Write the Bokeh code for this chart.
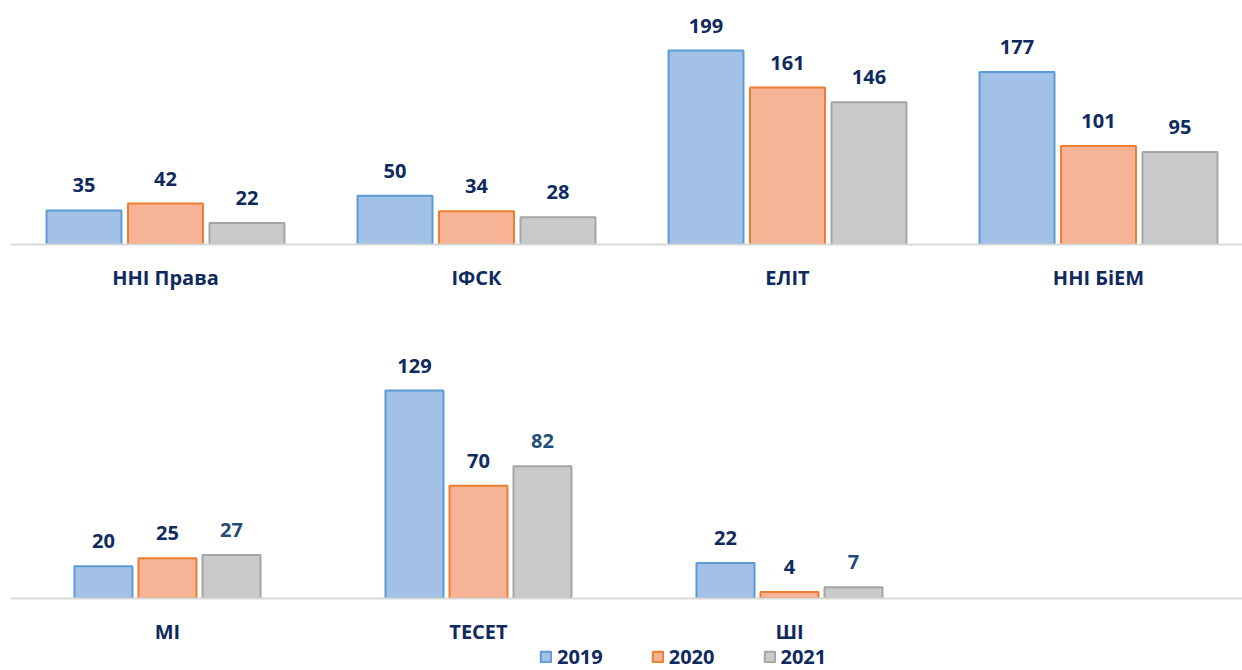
from bokeh.plotting import figure
from bokeh.models import Range1d, FixedTicker, Legend, LegendItem, ColumnDataSource
from bokeh.layouts import column
from bokeh.core.properties import value
from bokeh.embed import file_html
from bokeh.resources import INLINE

# ---------------- data ----------------
years = ["2019", "2020", "2021"]

top_categories = ["ННІ Права", "ІФСК", "ЕЛІТ", "ННІ БіЕМ"]
top_2019 = [35, 50, 199, 177]
top_2020 = [42, 34, 161, 101]
top_2021 = [22, 28, 146, 95]

bottom_categories = ["МІ", "ТЕСЕТ", "ШІ"]
bottom_2019 = [20, 129, 22]
bottom_2020 = [25, 70, 4]
bottom_2021 = [27, 82, 7]

# ---------------- style ----------------
FONT = "Open Sans"
NAVY = "#0e2a5e"
STEEL = "#1f4e79"
fills = ["#a3c0e7", "#f6b395", "#cacaca"]
lines = ["#5b9bd5", "#ed7d31", "#a5a5a5"]
W = 1242
LEFT = 10


def base_fig(frame_h, x_range, y_range, border_bottom):
    p = figure(frame_width=W - LEFT, frame_height=frame_h, output_backend="svg",
               toolbar_location=None, x_range=x_range, y_range=y_range,
               min_border_left=LEFT, min_border_right=0, min_border_top=0,
               min_border_bottom=border_bottom)
    p.outline_line_color = None
    p.xgrid.visible = False
    p.ygrid.visible = False
    p.background_fill_color = "white"
    p.border_fill_color = "white"
    return p


def make_panel(categories, series, x_start, x_end, y_end, frame_h, bar_w, pitch,
               label_colors, border_bottom):
    p = base_fig(frame_h, Range1d(x_start, x_end), Range1d(0, y_end), border_bottom)
    p.yaxis.visible = False

    for k, vals in enumerate(series):
        off = (k - 1) * pitch
        xs = [i + off for i in range(len(vals))]
        src = ColumnDataSource(dict(x=xs, top=vals, lab=[str(v) for v in vals]))
        p.vbar(x="x", top="top", bottom=0, width=bar_w, source=src,
               fill_color=fills[k], line_color=lines[k], line_width=2)
        p.text(x="x", y="top", text="lab", source=src, text_align="center",
               text_baseline="middle", y_offset=-25,
               text_font=value(FONT), text_font_style="bold",
               text_font_size="20px", text_color=label_colors[k])

    ax = p.xaxis[0]
    ax.ticker = FixedTicker(ticks=list(range(len(categories))))
    ax.major_label_overrides = {i: c for i, c in enumerate(categories)}
    ax.axis_line_color = "#d9d9d9"
    ax.axis_line_width = 2
    ax.major_tick_line_color = None
    ax.minor_tick_line_color = None
    ax.major_tick_out = 0
    ax.major_tick_in = 0
    ax.major_label_standoff = 19
    ax.major_label_text_font = FONT
    ax.major_label_text_font_style = "bold"
    ax.major_label_text_font_size = "20px"
    ax.major_label_text_color = NAVY
    return p


top = make_panel(top_categories, [top_2019, top_2020, top_2021],
                 -0.4984, 3.463, 250.3, 244, 0.241, 0.262,
                 [NAVY, NAVY, NAVY], 56)

bottom = make_panel(bottom_categories, [bottom_2019, bottom_2020, bottom_2021],
                    -0.5048, 3.4566, 184.9, 298, 0.1865, 0.2058,
                    [NAVY, NAVY, STEEL], 46)

# legend strip under the bottom panel (swatch renderers sit outside the visible range)
leg = base_fig(38, Range1d(0, 1), Range1d(0, 1), 0)
leg.xaxis.visible = False
leg.yaxis.visible = False
leg.background_fill_alpha = 0
leg.border_fill_alpha = 0
leg.margin = (-16, 0, 0, 0)
swatches = []
for k in range(3):
    swatches.append(leg.vbar(x=[50], bottom=[-30], top=[-20], width=0.01,
                             fill_color=fills[k], line_color=lines[k], line_width=2))

legend = Legend(items=[LegendItem(label=y, renderers=[r]) for y, r in zip(years, swatches)],
                orientation="horizontal", location=(529, -1))
legend.padding = 0
legend.margin = 0
legend.border_line_alpha = 0
legend.background_fill_alpha = 0
legend.glyph_width = 13
legend.glyph_height = 13
legend.label_standoff = 5
legend.spacing = 48
legend.label_text_font = FONT
legend.label_text_font_style = "bold"
legend.label_text_font_size = "20px"
legend.label_text_color = NAVY
leg.add_layout(legend, "center")

layout = column(top, bottom, leg, spacing=0)

open("out.html", "w").write(file_html(layout, INLINE))
